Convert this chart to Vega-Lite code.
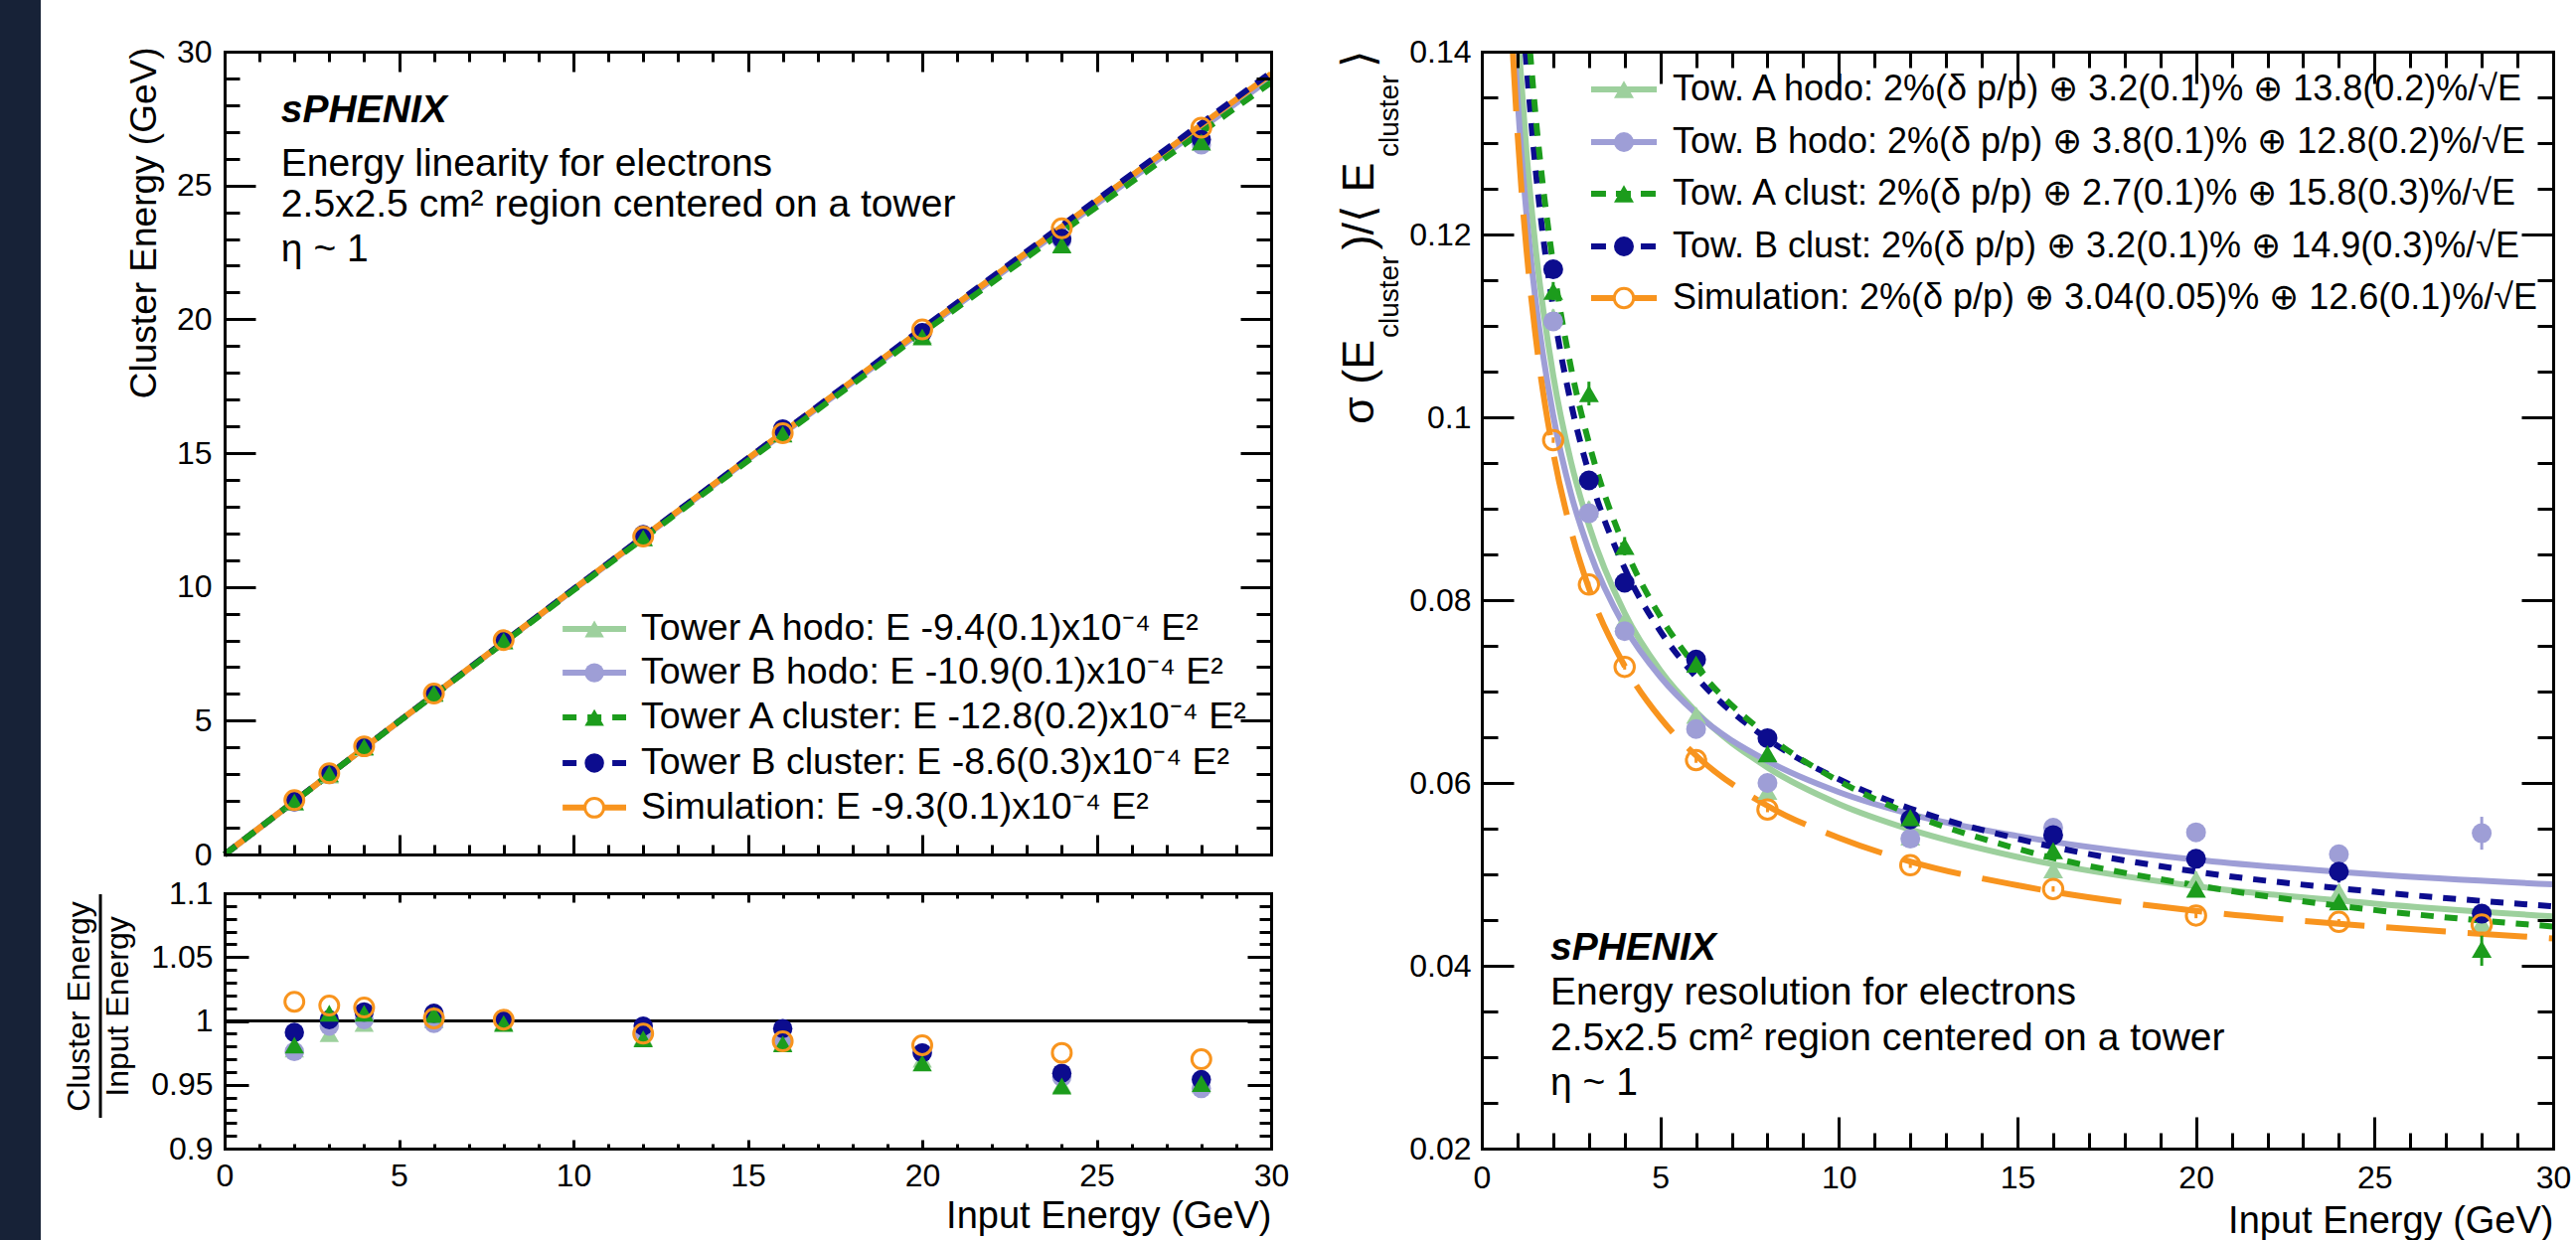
{
"$schema":"https://vega.github.io/schema/vega-lite/v6.json",
"background":"white",
"padding":0,
"config":{
 "view":{"stroke":null},
 "font":"Liberation Sans",
 "text":{"font":"Liberation Sans","color":"black"},
 "axis":{"grid":false,"labelFont":"Liberation Sans","labelFontSize":32,"labelColor":"black","titleFont":"Liberation Sans","titleColor":"black","titleFontWeight":"normal","titleFontSize":38,"domainColor":"black","domainWidth":3,"domainCap":"square","tickColor":"black","tickWidth":3,"labelOverlap":false,"labelFlush":false,"labelBound":false}
},
"datasets":{
 "fitL":[
  {"s":"Ah","E":0,"v":0},{"s":"Ah","E":5,"v":4.9765},{"s":"Ah","E":10,"v":9.906},{"s":"Ah","E":15,"v":14.7885},{"s":"Ah","E":20,"v":19.624},{"s":"Ah","E":25,"v":24.4125},{"s":"Ah","E":30,"v":29.154},
  {"s":"Bh","E":0,"v":0},{"s":"Bh","E":5,"v":4.97275},{"s":"Bh","E":10,"v":9.891},{"s":"Bh","E":15,"v":14.75475},{"s":"Bh","E":20,"v":19.564},{"s":"Bh","E":25,"v":24.31875},{"s":"Bh","E":30,"v":29.019},
  {"s":"Sim","E":0,"v":0},{"s":"Sim","E":5,"v":4.97675},{"s":"Sim","E":10,"v":9.907},{"s":"Sim","E":15,"v":14.79075},{"s":"Sim","E":20,"v":19.628},{"s":"Sim","E":25,"v":24.41875},{"s":"Sim","E":30,"v":29.163},
  {"s":"Bc","E":0,"v":0},{"s":"Bc","E":5,"v":4.9785},{"s":"Bc","E":10,"v":9.914},{"s":"Bc","E":15,"v":14.8065},{"s":"Bc","E":20,"v":19.656},{"s":"Bc","E":25,"v":24.4625},{"s":"Bc","E":30,"v":29.226},
  {"s":"Ac","E":0,"v":0},{"s":"Ac","E":5,"v":4.968},{"s":"Ac","E":10,"v":9.872},{"s":"Ac","E":15,"v":14.712},{"s":"Ac","E":20,"v":19.488},{"s":"Ac","E":25,"v":24.2},{"s":"Ac","E":30,"v":28.848}
 ],
 "ptsL":[
  {"s":"Ah","E":2,"r":0.978,"c":1.956},{"s":"Bh","E":2,"r":0.976,"c":1.952},{"s":"Bc","E":2,"r":0.991,"c":1.982},{"s":"Ac","E":2,"r":0.981,"c":1.962},{"s":"Sim","E":2,"r":1.015,"c":2.03},
  {"s":"Ah","E":3,"r":0.990,"c":2.97},{"s":"Bh","E":3,"r":0.996,"c":2.988},{"s":"Bc","E":3,"r":1.001,"c":3.003},{"s":"Ac","E":3,"r":1.006,"c":3.018},{"s":"Sim","E":3,"r":1.012,"c":3.036},
  {"s":"Ah","E":4,"r":0.998,"c":3.992},{"s":"Bh","E":4,"r":1.001,"c":4.004},{"s":"Bc","E":4,"r":1.007,"c":4.028},{"s":"Ac","E":4,"r":1.006,"c":4.024},{"s":"Sim","E":4,"r":1.0105,"c":4.042},
  {"s":"Ah","E":6,"r":1.001,"c":6.006},{"s":"Bh","E":6,"r":0.998,"c":5.988},{"s":"Bc","E":6,"r":1.006,"c":6.036},{"s":"Ac","E":6,"r":1.005,"c":6.03},{"s":"Sim","E":6,"r":1.002,"c":6.012},
  {"s":"Ah","E":8,"r":0.999,"c":7.992},{"s":"Bh","E":8,"r":1.0,"c":8.0},{"s":"Bc","E":8,"r":1.001,"c":8.008},{"s":"Ac","E":8,"r":0.998,"c":7.984},{"s":"Sim","E":8,"r":1.001,"c":8.008},
  {"s":"Ah","E":12,"r":0.987,"c":11.844},{"s":"Bh","E":12,"r":0.992,"c":11.904},{"s":"Bc","E":12,"r":0.996,"c":11.952},{"s":"Ac","E":12,"r":0.986,"c":11.832},{"s":"Sim","E":12,"r":0.990,"c":11.88},
  {"s":"Ah","E":16,"r":0.983,"c":15.728},{"s":"Bh","E":16,"r":0.985,"c":15.76},{"s":"Bc","E":16,"r":0.994,"c":15.904},{"s":"Ac","E":16,"r":0.982,"c":15.712},{"s":"Sim","E":16,"r":0.984,"c":15.744},
  {"s":"Ah","E":20,"r":0.970,"c":19.4},{"s":"Bh","E":20,"r":0.975,"c":19.5},{"s":"Bc","E":20,"r":0.975,"c":19.5},{"s":"Ac","E":20,"r":0.967,"c":19.34},{"s":"Sim","E":20,"r":0.981,"c":19.62},
  {"s":"Ah","E":24,"r":0.950,"c":22.8},{"s":"Bh","E":24,"r":0.956,"c":22.944},{"s":"Bc","E":24,"r":0.959,"c":23.016},{"s":"Ac","E":24,"r":0.949,"c":22.776},{"s":"Sim","E":24,"r":0.975,"c":23.4},
  {"s":"Ah","E":28,"r":0.950,"c":26.6},{"s":"Bh","E":28,"r":0.947,"c":26.516},{"s":"Bc","E":28,"r":0.954,"c":26.712},{"s":"Ac","E":28,"r":0.951,"c":26.628},{"s":"Sim","E":28,"r":0.970,"c":27.16}
 ],
 "fitR":[
  {"s":"Ah","E":1.0478,"v":0.14},{"s":"Ah","E":1.25,"v":0.1291},{"s":"Ah","E":1.5,"v":0.1188},{"s":"Ah","E":2,"v":0.1046},{"s":"Ah","E":2.5,"v":0.0951},{"s":"Ah","E":3,"v":0.0882},{"s":"Ah","E":4,"v":0.0786},{"s":"Ah","E":5,"v":0.0723},{"s":"Ah","E":6,"v":0.0678},{"s":"Ah","E":8,"v":0.0617},{"s":"Ah","E":10,"v":0.0577},{"s":"Ah","E":12,"v":0.0549},{"s":"Ah","E":15,"v":0.0519},{"s":"Ah","E":20,"v":0.0487},{"s":"Ah","E":25,"v":0.0468},{"s":"Ah","E":30,"v":0.0454},
  {"s":"Bh","E":0.9227,"v":0.14},{"s":"Bh","E":1,"v":0.1350},{"s":"Bh","E":1.25,"v":0.1223},{"s":"Bh","E":1.5,"v":0.1130},{"s":"Bh","E":2,"v":0.1002},{"s":"Bh","E":2.5,"v":0.0916},{"s":"Bh","E":3,"v":0.0855},{"s":"Bh","E":4,"v":0.0771},{"s":"Bh","E":5,"v":0.0716},{"s":"Bh","E":6,"v":0.0676},{"s":"Bh","E":8,"v":0.0624},{"s":"Bh","E":10,"v":0.0590},{"s":"Bh","E":12,"v":0.0566},{"s":"Bh","E":15,"v":0.0542},{"s":"Bh","E":20,"v":0.0516},{"s":"Bh","E":25,"v":0.0500},{"s":"Bh","E":30,"v":0.0489},
  {"s":"Sim","E":0.8687,"v":0.14},{"s":"Sim","E":1,"v":0.1311},{"s":"Sim","E":1.25,"v":0.1184},{"s":"Sim","E":1.5,"v":0.1091},{"s":"Sim","E":2,"v":0.0962},{"s":"Sim","E":2.5,"v":0.0876},{"s":"Sim","E":3,"v":0.0813},{"s":"Sim","E":4,"v":0.0728},{"s":"Sim","E":5,"v":0.0671},{"s":"Sim","E":6,"v":0.0630},{"s":"Sim","E":8,"v":0.0575},{"s":"Sim","E":10,"v":0.0540},{"s":"Sim","E":12,"v":0.0514},{"s":"Sim","E":15,"v":0.0488},{"s":"Sim","E":20,"v":0.0460},{"s":"Sim","E":25,"v":0.0443},{"s":"Sim","E":30,"v":0.0430},
  {"s":"Bc","E":1.2214,"v":0.14},{"s":"Bc","E":1.5,"v":0.1274},{"s":"Bc","E":2,"v":0.1119},{"s":"Bc","E":2.5,"v":0.1015},{"s":"Bc","E":3,"v":0.0939},{"s":"Bc","E":4,"v":0.0835},{"s":"Bc","E":5,"v":0.0766},{"s":"Bc","E":6,"v":0.0716},{"s":"Bc","E":8,"v":0.0648},{"s":"Bc","E":10,"v":0.0604},{"s":"Bc","E":12,"v":0.0572},{"s":"Bc","E":15,"v":0.0539},{"s":"Bc","E":20,"v":0.0503},{"s":"Bc","E":25,"v":0.0481},{"s":"Bc","E":30,"v":0.0465},
  {"s":"Ac","E":1.3515,"v":0.14},{"s":"Ac","E":1.5,"v":0.1333},{"s":"Ac","E":2,"v":0.1167},{"s":"Ac","E":2.5,"v":0.1054},{"s":"Ac","E":3,"v":0.0972},{"s":"Ac","E":4,"v":0.0858},{"s":"Ac","E":5,"v":0.0782},{"s":"Ac","E":6,"v":0.0727},{"s":"Ac","E":8,"v":0.0652},{"s":"Ac","E":10,"v":0.0602},{"s":"Ac","E":12,"v":0.0566},{"s":"Ac","E":15,"v":0.0528},{"s":"Ac","E":20,"v":0.0488},{"s":"Ac","E":25,"v":0.0461},{"s":"Ac","E":30,"v":0.0443}
 ],
 "ptsR":[
  {"s":"Ah","E":2,"v":0.1110,"lo":0.1102,"hi":0.1118},{"s":"Bh","E":2,"v":0.1105,"lo":0.1097,"hi":0.1113},{"s":"Bc","E":2,"v":0.1162,"lo":0.1154,"hi":0.1170},{"s":"Ac","E":2,"v":0.1138,"lo":0.1128,"hi":0.1148},{"s":"Sim","E":2,"v":0.0975,"lo":0.0972,"hi":0.0978},
  {"s":"Ah","E":3,"v":0.0900,"lo":0.0892,"hi":0.0908},{"s":"Bh","E":3,"v":0.0895,"lo":0.0887,"hi":0.0903},{"s":"Bc","E":3,"v":0.0931,"lo":0.0923,"hi":0.0939},{"s":"Ac","E":3,"v":0.1026,"lo":0.1013,"hi":0.1039},{"s":"Sim","E":3,"v":0.0817,"lo":0.0814,"hi":0.0820},
  {"s":"Ah","E":4,"v":0.0778,"lo":0.0770,"hi":0.0786},{"s":"Bh","E":4,"v":0.0766,"lo":0.0758,"hi":0.0774},{"s":"Bc","E":4,"v":0.0819,"lo":0.0811,"hi":0.0827},{"s":"Ac","E":4,"v":0.0859,"lo":0.0849,"hi":0.0869},{"s":"Sim","E":4,"v":0.0727,"lo":0.0724,"hi":0.0730},
  {"s":"Ah","E":6,"v":0.0674,"lo":0.0666,"hi":0.0682},{"s":"Bh","E":6,"v":0.0659,"lo":0.0651,"hi":0.0667},{"s":"Bc","E":6,"v":0.0735,"lo":0.0727,"hi":0.0743},{"s":"Ac","E":6,"v":0.0730,"lo":0.0722,"hi":0.0738},{"s":"Sim","E":6,"v":0.0625,"lo":0.0622,"hi":0.0628},
  {"s":"Ah","E":8,"v":0.0591,"lo":0.0583,"hi":0.0599},{"s":"Bh","E":8,"v":0.0600,"lo":0.0592,"hi":0.0608},{"s":"Bc","E":8,"v":0.0649,"lo":0.0641,"hi":0.0657},{"s":"Ac","E":8,"v":0.0632,"lo":0.0624,"hi":0.0640},{"s":"Sim","E":8,"v":0.0571,"lo":0.0568,"hi":0.0574},
  {"s":"Ah","E":12,"v":0.0541,"lo":0.0533,"hi":0.0549},{"s":"Bh","E":12,"v":0.0539,"lo":0.0531,"hi":0.0547},{"s":"Bc","E":12,"v":0.0560,"lo":0.0552,"hi":0.0568},{"s":"Ac","E":12,"v":0.0562,"lo":0.0554,"hi":0.0570},{"s":"Sim","E":12,"v":0.0510,"lo":0.0507,"hi":0.0513},
  {"s":"Ah","E":16,"v":0.0505,"lo":0.0497,"hi":0.0513},{"s":"Bh","E":16,"v":0.0551,"lo":0.0543,"hi":0.0559},{"s":"Bc","E":16,"v":0.0543,"lo":0.0535,"hi":0.0551},{"s":"Ac","E":16,"v":0.0526,"lo":0.0518,"hi":0.0534},{"s":"Sim","E":16,"v":0.0484,"lo":0.0481,"hi":0.0487},
  {"s":"Ah","E":20,"v":0.0495,"lo":0.0487,"hi":0.0503},{"s":"Bh","E":20,"v":0.0546,"lo":0.0538,"hi":0.0554},{"s":"Bc","E":20,"v":0.0517,"lo":0.0507,"hi":0.0527},{"s":"Ac","E":20,"v":0.0484,"lo":0.0476,"hi":0.0492},{"s":"Sim","E":20,"v":0.0455,"lo":0.0452,"hi":0.0458},
  {"s":"Ah","E":24,"v":0.0481,"lo":0.0473,"hi":0.0489},{"s":"Bh","E":24,"v":0.0522,"lo":0.0514,"hi":0.0530},{"s":"Bc","E":24,"v":0.0503,"lo":0.0491,"hi":0.0515},{"s":"Ac","E":24,"v":0.0470,"lo":0.0462,"hi":0.0478},{"s":"Sim","E":24,"v":0.0448,"lo":0.0445,"hi":0.0451},
  {"s":"Ah","E":28,"v":0.0447,"lo":0.0439,"hi":0.0455},{"s":"Bh","E":28,"v":0.0545,"lo":0.0527,"hi":0.0563},{"s":"Bc","E":28,"v":0.0457,"lo":0.0447,"hi":0.0467},{"s":"Ac","E":28,"v":0.0418,"lo":0.0400,"hi":0.0436},{"s":"Sim","E":28,"v":0.0445,"lo":0.0442,"hi":0.0448}
 ]
},
"bounds":"flush",
"spacing":185,
"hconcat":[
 {"width":41,"height":1248,"data":{"values":[{"a":0,"b":1}]},"mark":{"type":"rect","color":"#172237"},
  "encoding":{"x":{"field":"a","type":"quantitative","scale":{"domain":[0,1],"nice":false,"zero":false},"axis":null},"x2":{"field":"b"},
   "y":{"field":"a","type":"quantitative","scale":{"domain":[0,1],"nice":false,"zero":false},"axis":null},"y2":{"field":"b"}}},
 {"bounds":"flush","spacing":212,"hconcat":[
  {"width":1053,"height":1156,
   "resolve":{"scale":{"y":"independent"},"axis":{"x":"independent","y":"independent"}},
   "layer":[
    {"resolve":{"axis":{"x":"independent","y":"independent"}},
     "layer":[
     {"data":{"name":"fitL"},"transform":[{"filter":{"field":"s","oneOf":["Ah","Bh","Sim"]}}],
      "mark":{"type":"line","strokeWidth":6},
      "encoding":{
       "x":{"field":"E","type":"quantitative","scale":{"domain":[0,30],"nice":false,"zero":false},
        "axis":{"orient":"bottom","offset":-296,"values":[0,1,2,3,4,5,6,7,8,9,10,11,12,13,14,15,16,17,18,19,20,21,22,23,24,25,26,27,28,29,30],"labels":false,"title":null,"tickSize":{"condition":{"test":"datum.value % 5 === 0","value":-20},"value":-10},"zindex":2}},
       "y":{"field":"v","type":"quantitative","scale":{"domain":[0,30],"nice":false,"zero":false,"range":[860,52]},
        "axis":{"orient":"left","values":[0,5,10,15,20,25,30],"ticks":false,"tickSize":0,"domain":false,"labelPadding":13,"labelExpr":"'' + datum.value","title":"Cluster Energy (GeV)","titleFontSize":37,"titleAngle":270,"titleAlign":"right","titleBaseline":"alphabetic","titleX":-70,"titleY":47}},
       "color":{"field":"s","type":"nominal","scale":{"domain":["Ah","Bh","Ac","Bc","Sim"],"range":["#9dd09d","#9e9ed6","#1c9c1c","#0c0c8e","#f8941e"]},"legend":null}}},
     {"data":{"name":"fitL"},"transform":[{"filter":{"field":"s","oneOf":["Bc","Ac"]}}],
      "mark":{"type":"line","strokeWidth":6,"strokeDash":[14,10]},
      "encoding":{
       "x":{"field":"E","type":"quantitative","scale":{"domain":[0,30],"nice":false,"zero":false},"axis":null},
       "y":{"field":"v","type":"quantitative","scale":{"domain":[0,30],"nice":false,"zero":false,"range":[860,52]},"axis":null},
       "color":{"field":"s","type":"nominal","legend":null}}},
     {"data":{"name":"ptsL"},"transform":[{"filter":{"field":"s","oneOf":["Ah","Bh","Bc","Ac"]}}],
      "mark":{"type":"point","filled":true,"size":380,"opacity":1},
      "encoding":{
       "x":{"field":"E","type":"quantitative","scale":{"domain":[0,30],"nice":false,"zero":false},
        "axis":{"orient":"top","offset":-52,"values":[0,1,2,3,4,5,6,7,8,9,10,11,12,13,14,15,16,17,18,19,20,21,22,23,24,25,26,27,28,29,30],"labels":false,"title":null,"tickSize":{"condition":{"test":"datum.value % 5 === 0","value":-20},"value":-10},"zindex":2}},
       "y":{"field":"c","type":"quantitative","scale":{"domain":[0,30],"nice":false,"zero":false,"range":[860,52]},
        "axis":{"orient":"left","values":[0,1,2,3,4,5,6,7,8,9,10,11,12,13,14,15,16,17,18,19,20,21,22,23,24,25,26,27,28,29,30],"labels":false,"title":null,"tickSize":{"condition":{"test":"datum.value % 5 === 0","value":-31},"value":-15},"zindex":2}},
       "color":{"field":"s","type":"nominal","legend":null},
       "shape":{"field":"s","type":"nominal","scale":{"domain":["Ah","Bh","Ac","Bc","Sim"],"range":["triangle-up","circle","triangle-up","circle","circle"]},"legend":null}}},
     {"data":{"name":"ptsL"},"transform":[{"filter":{"field":"s","oneOf":["Sim"]}}],
      "mark":{"type":"point","filled":false,"size":360,"strokeWidth":3,"opacity":1},
      "encoding":{
       "x":{"field":"E","type":"quantitative","scale":{"domain":[0,30],"nice":false,"zero":false},"axis":null},
       "y":{"field":"c","type":"quantitative","scale":{"domain":[0,30],"nice":false,"zero":false,"range":[860,52]},
        "axis":{"orient":"right","values":[0,1,2,3,4,5,6,7,8,9,10,11,12,13,14,15,16,17,18,19,20,21,22,23,24,25,26,27,28,29,30],"labels":false,"title":null,"tickSize":{"condition":{"test":"datum.value % 5 === 0","value":-31},"value":-15},"zindex":2}},
       "color":{"field":"s","type":"nominal","legend":null}}},
     {"data":{"values":[{"t":"sPHENIX"}]},"mark":{"type":"text","fontSize":39,"fontWeight":"bold","fontStyle":"italic","align":"left","baseline":"alphabetic"},
      "encoding":{"x":{"datum":1.62,"type":"quantitative","scale":{"domain":[0,30],"nice":false,"zero":false},"axis":null},"y":{"datum":27.36,"type":"quantitative","scale":{"domain":[0,30],"nice":false,"zero":false,"range":[860,52]},"axis":null},"text":{"field":"t"}}},
     {"data":{"values":[{"t":"Energy linearity for electrons"}]},"mark":{"type":"text","fontSize":39,"align":"left","baseline":"alphabetic"},
      "encoding":{"x":{"datum":1.62,"type":"quantitative","scale":{"domain":[0,30],"nice":false,"zero":false},"axis":null},"y":{"datum":25.36,"type":"quantitative","scale":{"domain":[0,30],"nice":false,"zero":false,"range":[860,52]},"axis":null},"text":{"field":"t"}}},
     {"data":{"values":[{"t":"2.5x2.5 cm² region centered on a tower"}]},"mark":{"type":"text","fontSize":39,"align":"left","baseline":"alphabetic"},
      "encoding":{"x":{"datum":1.62,"type":"quantitative","scale":{"domain":[0,30],"nice":false,"zero":false},"axis":null},"y":{"datum":23.84,"type":"quantitative","scale":{"domain":[0,30],"nice":false,"zero":false,"range":[860,52]},"axis":null},"text":{"field":"t"}}},
     {"data":{"values":[{"t":"η ~ 1"}]},"mark":{"type":"text","fontSize":39,"align":"left","baseline":"alphabetic"},
      "encoding":{"x":{"datum":1.62,"type":"quantitative","scale":{"domain":[0,30],"nice":false,"zero":false},"axis":null},"y":{"datum":22.17,"type":"quantitative","scale":{"domain":[0,30],"nice":false,"zero":false,"range":[860,52]},"axis":null},"text":{"field":"t"}}},
     {"data":{"values":[{"s":"Ah","t":"Tower A hodo: E -9.4(0.1)x10⁻⁴ E²"}]},
      "encoding":{"y":{"datum":8.43,"type":"quantitative","scale":{"domain":[0,30],"nice":false,"zero":false,"range":[860,52]},"axis":null},"color":{"field":"s","type":"nominal","legend":null}},
      "layer":[
       {"mark":{"type":"rule","strokeWidth":6},"encoding":{"x":{"datum":9.69,"type":"quantitative","scale":{"domain":[0,30],"nice":false,"zero":false},"axis":null},"x2":{"datum":11.51}}},
       {"mark":{"type":"point","filled":true,"size":380,"opacity":1},"encoding":{"x":{"datum":10.6,"type":"quantitative","scale":{"domain":[0,30],"nice":false,"zero":false},"axis":null},"shape":{"field":"s","type":"nominal","legend":null}}},
       {"mark":{"type":"text","fontSize":37.5,"align":"left","baseline":"middle"},"encoding":{"x":{"datum":11.94,"type":"quantitative","scale":{"domain":[0,30],"nice":false,"zero":false},"axis":null},"text":{"field":"t"},"color":{"value":"black"}}}]},
     {"data":{"values":[{"s":"Bh","t":"Tower B hodo: E -10.9(0.1)x10⁻⁴ E²"}]},
      "encoding":{"y":{"datum":6.79,"type":"quantitative","scale":{"domain":[0,30],"nice":false,"zero":false,"range":[860,52]},"axis":null},"color":{"field":"s","type":"nominal","legend":null}},
      "layer":[
       {"mark":{"type":"rule","strokeWidth":6},"encoding":{"x":{"datum":9.69,"type":"quantitative","scale":{"domain":[0,30],"nice":false,"zero":false},"axis":null},"x2":{"datum":11.51}}},
       {"mark":{"type":"point","filled":true,"size":380,"opacity":1},"encoding":{"x":{"datum":10.6,"type":"quantitative","scale":{"domain":[0,30],"nice":false,"zero":false},"axis":null},"shape":{"field":"s","type":"nominal","legend":null}}},
       {"mark":{"type":"text","fontSize":37.5,"align":"left","baseline":"middle"},"encoding":{"x":{"datum":11.94,"type":"quantitative","scale":{"domain":[0,30],"nice":false,"zero":false},"axis":null},"text":{"field":"t"},"color":{"value":"black"}}}]},
     {"data":{"values":[{"s":"Ac","t":"Tower A cluster: E -12.8(0.2)x10⁻⁴ E²"}]},
      "encoding":{"y":{"datum":5.12,"type":"quantitative","scale":{"domain":[0,30],"nice":false,"zero":false,"range":[860,52]},"axis":null},"color":{"field":"s","type":"nominal","legend":null}},
      "layer":[
       {"mark":{"type":"rule","strokeWidth":6,"strokeDash":[14,11]},"encoding":{"x":{"datum":9.69,"type":"quantitative","scale":{"domain":[0,30],"nice":false,"zero":false},"axis":null},"x2":{"datum":11.51}}},
       {"mark":{"type":"point","filled":true,"size":380,"opacity":1},"encoding":{"x":{"datum":10.6,"type":"quantitative","scale":{"domain":[0,30],"nice":false,"zero":false},"axis":null},"shape":{"field":"s","type":"nominal","legend":null}}},
       {"mark":{"type":"text","fontSize":37.5,"align":"left","baseline":"middle"},"encoding":{"x":{"datum":11.94,"type":"quantitative","scale":{"domain":[0,30],"nice":false,"zero":false},"axis":null},"text":{"field":"t"},"color":{"value":"black"}}}]},
     {"data":{"values":[{"s":"Bc","t":"Tower B cluster: E -8.6(0.3)x10⁻⁴ E²"}]},
      "encoding":{"y":{"datum":3.42,"type":"quantitative","scale":{"domain":[0,30],"nice":false,"zero":false,"range":[860,52]},"axis":null},"color":{"field":"s","type":"nominal","legend":null}},
      "layer":[
       {"mark":{"type":"rule","strokeWidth":6,"strokeDash":[14,11]},"encoding":{"x":{"datum":9.69,"type":"quantitative","scale":{"domain":[0,30],"nice":false,"zero":false},"axis":null},"x2":{"datum":11.51}}},
       {"mark":{"type":"point","filled":true,"size":380,"opacity":1},"encoding":{"x":{"datum":10.6,"type":"quantitative","scale":{"domain":[0,30],"nice":false,"zero":false},"axis":null},"shape":{"field":"s","type":"nominal","legend":null}}},
       {"mark":{"type":"text","fontSize":37.5,"align":"left","baseline":"middle"},"encoding":{"x":{"datum":11.94,"type":"quantitative","scale":{"domain":[0,30],"nice":false,"zero":false},"axis":null},"text":{"field":"t"},"color":{"value":"black"}}}]},
     {"data":{"values":[{"s":"Sim","t":"Simulation: E -9.3(0.1)x10⁻⁴ E²"}]},
      "encoding":{"y":{"datum":1.75,"type":"quantitative","scale":{"domain":[0,30],"nice":false,"zero":false,"range":[860,52]},"axis":null},"color":{"field":"s","type":"nominal","legend":null}},
      "layer":[
       {"mark":{"type":"rule","strokeWidth":6},"encoding":{"x":{"datum":9.69,"type":"quantitative","scale":{"domain":[0,30],"nice":false,"zero":false},"axis":null},"x2":{"datum":11.51}}},
       {"mark":{"type":"point","filled":true,"size":380,"opacity":1},"encoding":{"x":{"datum":10.6,"type":"quantitative","scale":{"domain":[0,30],"nice":false,"zero":false},"axis":null},"color":{"value":"white"}}},
       {"mark":{"type":"point","filled":false,"size":360,"strokeWidth":3,"opacity":1},"encoding":{"x":{"datum":10.6,"type":"quantitative","scale":{"domain":[0,30],"nice":false,"zero":false},"axis":null}}},
       {"mark":{"type":"text","fontSize":37.5,"align":"left","baseline":"middle"},"encoding":{"x":{"datum":11.94,"type":"quantitative","scale":{"domain":[0,30],"nice":false,"zero":false},"axis":null},"text":{"field":"t"},"color":{"value":"black"}}}]}
     ]},
    {"resolve":{"axis":{"x":"independent","y":"independent"}},
     "layer":[
     {"data":{"values":[{"v":1}]},"mark":{"type":"rule","strokeWidth":3,"color":"black"},
      "encoding":{"y":{"field":"v","type":"quantitative","scale":{"domain":[0.9,1.1],"nice":false,"zero":false,"range":[1156,899]},
       "axis":{"orient":"left","values":[0.9,0.95,1,1.05,1.1],"ticks":false,"tickSize":0,"domain":false,"labelPadding":12,"labelExpr":"'' + datum.value","title":null}}}},
     {"data":{"name":"ptsL"},"mark":{"type":"point","opacity":0},
      "encoding":{
       "x":{"field":"E","type":"quantitative","scale":{"domain":[0,30],"nice":false,"zero":false},
        "axis":{"orient":"bottom","values":[0,1,2,3,4,5,6,7,8,9,10,11,12,13,14,15,16,17,18,19,20,21,22,23,24,25,26,27,28,29,30],"labels":false,"title":null,"tickSize":{"condition":{"test":"datum.value % 5 === 0","value":-9},"value":-5},"zindex":2}},
       "y":{"field":"r","type":"quantitative","scale":{"domain":[0.9,1.1],"nice":false,"zero":false,"range":[1156,899]},"axis":null}}},
     {"data":{"name":"ptsL"},"transform":[{"filter":{"field":"s","oneOf":["Ah","Bh","Bc","Ac"]}}],
      "mark":{"type":"point","filled":true,"size":380,"opacity":1},
      "encoding":{
       "x":{"field":"E","type":"quantitative","scale":{"domain":[0,30],"nice":false,"zero":false},
        "axis":{"orient":"bottom","values":[0,5,10,15,20,25,30],"ticks":false,"tickSize":0,"domain":false,"labelPadding":12,"labelExpr":"'' + datum.value","title":"Input Energy (GeV)","titleAnchor":"end","titleAlign":"right","titleBaseline":"alphabetic","titleX":1053,"titleY":79}},
       "y":{"field":"r","type":"quantitative","scale":{"domain":[0.9,1.1],"nice":false,"zero":false,"range":[1156,899]},
        "axis":{"orient":"left","values":[0.9,0.91,0.92,0.93,0.94,0.95,0.96,0.97,0.98,0.99,1,1.01,1.02,1.03,1.04,1.05,1.06,1.07,1.08,1.09,1.1],"labels":false,"title":null,"tickSize":{"condition":{"test":"round(datum.value*100) % 5 === 0","value":-24},"value":-12},"zindex":2}},
       "color":{"field":"s","type":"nominal","scale":{"domain":["Ah","Bh","Ac","Bc","Sim"],"range":["#9dd09d","#9e9ed6","#1c9c1c","#0c0c8e","#f8941e"]},"legend":null},
       "shape":{"field":"s","type":"nominal","scale":{"domain":["Ah","Bh","Ac","Bc","Sim"],"range":["triangle-up","circle","triangle-up","circle","circle"]},"legend":null}}},
     {"data":{"name":"ptsL"},"transform":[{"filter":{"field":"s","oneOf":["Sim"]}}],
      "mark":{"type":"point","filled":false,"size":360,"strokeWidth":3,"opacity":1},
      "encoding":{
       "x":{"field":"E","type":"quantitative","scale":{"domain":[0,30],"nice":false,"zero":false},
        "axis":{"orient":"top","offset":-899,"values":[0,1,2,3,4,5,6,7,8,9,10,11,12,13,14,15,16,17,18,19,20,21,22,23,24,25,26,27,28,29,30],"labels":false,"title":null,"tickSize":{"condition":{"test":"datum.value % 5 === 0","value":-9},"value":-5},"zindex":2}},
       "y":{"field":"r","type":"quantitative","scale":{"domain":[0.9,1.1],"nice":false,"zero":false,"range":[1156,899]},
        "axis":{"orient":"right","values":[0.9,0.91,0.92,0.93,0.94,0.95,0.96,0.97,0.98,0.99,1,1.01,1.02,1.03,1.04,1.05,1.06,1.07,1.08,1.09,1.1],"labels":false,"title":null,"tickSize":{"condition":{"test":"round(datum.value*100) % 5 === 0","value":-24},"value":-12},"zindex":2}},
       "color":{"field":"s","type":"nominal","legend":null}}},
     {"data":{"values":[{"t":"Cluster Energy"}]},"mark":{"type":"text","fontSize":32,"angle":270,"align":"center","baseline":"alphabetic"},
      "encoding":{"x":{"datum":-3.87,"type":"quantitative","scale":{"domain":[0,30],"nice":false,"zero":false},"axis":null},"y":{"datum":1.0113,"type":"quantitative","scale":{"domain":[0.9,1.1],"nice":false,"zero":false,"range":[1156,899]},"axis":null},"text":{"field":"t"}}},
     {"data":{"values":[{"t":"Input Energy"}]},"mark":{"type":"text","fontSize":32,"angle":270,"align":"center","baseline":"alphabetic"},
      "encoding":{"x":{"datum":-2.76,"type":"quantitative","scale":{"domain":[0,30],"nice":false,"zero":false},"axis":null},"y":{"datum":1.0113,"type":"quantitative","scale":{"domain":[0.9,1.1],"nice":false,"zero":false,"range":[1156,899]},"axis":null},"text":{"field":"t"}}},
     {"data":{"values":[{"t":"bar"}]},"mark":{"type":"rule","strokeWidth":3,"color":"black"},
      "encoding":{"x":{"datum":-3.56,"type":"quantitative","scale":{"domain":[0,30],"nice":false,"zero":false},"axis":null},"y":{"datum":1.0992,"type":"quantitative","scale":{"domain":[0.9,1.1],"nice":false,"zero":false,"range":[1156,899]},"axis":null},"y2":{"datum":0.9241}}}
     ]}
   ]},
  {"width":1078,"height":1156,
   "resolve":{"axis":{"x":"independent","y":"independent"}},
   "layer":[
     {"data":{"name":"fitR"},"transform":[{"filter":{"field":"s","oneOf":["Ah","Bh"]}}],
      "mark":{"type":"line","strokeWidth":6,"interpolate":"monotone"},
      "encoding":{
       "x":{"field":"E","type":"quantitative","scale":{"domain":[0,30],"nice":false,"zero":false},
        "axis":{"orient":"bottom","values":[0,5,10,15,20,25,30],"ticks":false,"tickSize":0,"domain":false,"labelPadding":14,"labelExpr":"'' + datum.value","title":"Input Energy (GeV)","titleAnchor":"end","titleAlign":"right","titleBaseline":"alphabetic","titleX":1078,"titleY":84}},
       "y":{"field":"v","type":"quantitative","scale":{"domain":[0.02,0.14],"nice":false,"zero":false,"range":[1156,52]},
        "axis":{"orient":"left","values":[0.02,0.04,0.06,0.08,0.1,0.12,0.14],"ticks":false,"tickSize":0,"domain":false,"labelPadding":11,"labelExpr":"'' + datum.value","title":null}},
       "color":{"field":"s","type":"nominal","scale":{"domain":["Ah","Bh","Ac","Bc","Sim"],"range":["#9dd09d","#9e9ed6","#1c9c1c","#0c0c8e","#f8941e"]},"legend":null}}},
     {"data":{"name":"fitR"},"transform":[{"filter":{"field":"s","oneOf":["Sim"]}}],
      "mark":{"type":"line","strokeWidth":6,"interpolate":"monotone","strokeDash":[60,22]},
      "encoding":{
       "x":{"field":"E","type":"quantitative","scale":{"domain":[0,30],"nice":false,"zero":false},"axis":null},
       "y":{"field":"v","type":"quantitative","scale":{"domain":[0.02,0.14],"nice":false,"zero":false,"range":[1156,52]},"axis":null},
       "color":{"field":"s","type":"nominal","legend":null}}},
     {"data":{"name":"fitR"},"transform":[{"filter":{"field":"s","oneOf":["Bc","Ac"]}}],
      "mark":{"type":"line","strokeWidth":6,"interpolate":"monotone","strokeDash":[13,11]},
      "encoding":{
       "x":{"field":"E","type":"quantitative","scale":{"domain":[0,30],"nice":false,"zero":false},"axis":null},
       "y":{"field":"v","type":"quantitative","scale":{"domain":[0.02,0.14],"nice":false,"zero":false,"range":[1156,52]},"axis":null},
       "color":{"field":"s","type":"nominal","legend":null}}},
     {"data":{"name":"ptsR"},
      "mark":{"type":"rule","strokeWidth":3},
      "encoding":{
       "x":{"field":"E","type":"quantitative","scale":{"domain":[0,30],"nice":false,"zero":false},
        "axis":{"orient":"bottom","values":[0,1,2,3,4,5,6,7,8,9,10,11,12,13,14,15,16,17,18,19,20,21,22,23,24,25,26,27,28,29,30],"labels":false,"title":null,"tickSize":{"condition":{"test":"datum.value % 5 === 0","value":-32},"value":-16},"zindex":2}},
       "y":{"field":"lo","type":"quantitative","scale":{"domain":[0.02,0.14],"nice":false,"zero":false,"range":[1156,52]},
        "axis":{"orient":"left","values":[0.02,0.025,0.03,0.035,0.04,0.045,0.05,0.055,0.06,0.065,0.07,0.075,0.08,0.085,0.09,0.095,0.1,0.105,0.11,0.115,0.12,0.125,0.13,0.135,0.14],"labels":false,"title":null,"tickSize":{"condition":{"test":"round(datum.value*1000) % 20 === 0","value":-32},"value":-16},"zindex":2}},
       "y2":{"field":"hi"},
       "color":{"field":"s","type":"nominal","legend":null}}},
     {"data":{"name":"ptsR"},"transform":[{"filter":{"field":"s","oneOf":["Ah","Bh","Bc","Ac"]}}],
      "mark":{"type":"point","filled":true,"size":400,"opacity":1},
      "encoding":{
       "x":{"field":"E","type":"quantitative","scale":{"domain":[0,30],"nice":false,"zero":false},
        "axis":{"orient":"top","offset":-52,"values":[0,1,2,3,4,5,6,7,8,9,10,11,12,13,14,15,16,17,18,19,20,21,22,23,24,25,26,27,28,29,30],"labels":false,"title":null,"tickSize":{"condition":{"test":"datum.value % 5 === 0","value":-32},"value":-16},"zindex":2}},
       "y":{"field":"v","type":"quantitative","scale":{"domain":[0.02,0.14],"nice":false,"zero":false,"range":[1156,52]},
        "axis":{"orient":"right","values":[0.02,0.025,0.03,0.035,0.04,0.045,0.05,0.055,0.06,0.065,0.07,0.075,0.08,0.085,0.09,0.095,0.1,0.105,0.11,0.115,0.12,0.125,0.13,0.135,0.14],"labels":false,"title":null,"tickSize":{"condition":{"test":"round(datum.value*1000) % 20 === 0","value":-32},"value":-16},"zindex":2}},
       "color":{"field":"s","type":"nominal","legend":null},
       "shape":{"field":"s","type":"nominal","scale":{"domain":["Ah","Bh","Ac","Bc","Sim"],"range":["triangle-up","circle","triangle-up","circle","circle"]},"legend":null}}},
     {"data":{"name":"ptsR"},"transform":[{"filter":{"field":"s","oneOf":["Sim"]}}],
      "mark":{"type":"point","filled":false,"size":380,"strokeWidth":3,"opacity":1},
      "encoding":{
       "x":{"field":"E","type":"quantitative","scale":{"domain":[0,30],"nice":false,"zero":false},"axis":null},
       "y":{"field":"v","type":"quantitative","scale":{"domain":[0.02,0.14],"nice":false,"zero":false,"range":[1156,52]},"axis":null},
       "color":{"field":"s","type":"nominal","legend":null}}},
     {"data":{"values":[{"t":"sPHENIX"}]},"mark":{"type":"text","fontSize":39,"fontWeight":"bold","fontStyle":"italic","align":"left","baseline":"alphabetic"},
      "encoding":{"x":{"datum":1.92,"type":"quantitative","scale":{"domain":[0,30],"nice":false,"zero":false},"axis":null},"y":{"datum":0.04065,"type":"quantitative","scale":{"domain":[0.02,0.14],"nice":false,"zero":false,"range":[1156,52]},"axis":null},"text":{"field":"t"}}},
     {"data":{"values":[{"t":"Energy resolution for electrons"}]},"mark":{"type":"text","fontSize":39,"align":"left","baseline":"alphabetic"},
      "encoding":{"x":{"datum":1.92,"type":"quantitative","scale":{"domain":[0,30],"nice":false,"zero":false},"axis":null},"y":{"datum":0.03576,"type":"quantitative","scale":{"domain":[0.02,0.14],"nice":false,"zero":false,"range":[1156,52]},"axis":null},"text":{"field":"t"}}},
     {"data":{"values":[{"t":"2.5x2.5 cm² region centered on a tower"}]},"mark":{"type":"text","fontSize":39,"align":"left","baseline":"alphabetic"},
      "encoding":{"x":{"datum":1.92,"type":"quantitative","scale":{"domain":[0,30],"nice":false,"zero":false},"axis":null},"y":{"datum":0.03076,"type":"quantitative","scale":{"domain":[0.02,0.14],"nice":false,"zero":false,"range":[1156,52]},"axis":null},"text":{"field":"t"}}},
     {"data":{"values":[{"t":"η ~ 1"}]},"mark":{"type":"text","fontSize":39,"align":"left","baseline":"alphabetic"},
      "encoding":{"x":{"datum":1.92,"type":"quantitative","scale":{"domain":[0,30],"nice":false,"zero":false},"axis":null},"y":{"datum":0.02587,"type":"quantitative","scale":{"domain":[0.02,0.14],"nice":false,"zero":false,"range":[1156,52]},"axis":null},"text":{"field":"t"}}},
     {"data":{"values":[{"t":"σ (E"}]},"mark":{"type":"text","fontSize":45,"angle":270,"align":"left","baseline":"alphabetic"},
      "encoding":{"x":{"datum":-3.03,"type":"quantitative","scale":{"domain":[0,30],"nice":false,"zero":false},"axis":null},"y":{"datum":0.09924,"type":"quantitative","scale":{"domain":[0.02,0.14],"nice":false,"zero":false,"range":[1156,52]},"axis":null},"text":{"field":"t"}}},
     {"data":{"values":[{"t":"cluster"}]},"mark":{"type":"text","fontSize":28,"angle":270,"align":"left","baseline":"alphabetic"},
      "encoding":{"x":{"datum":-2.34,"type":"quantitative","scale":{"domain":[0,30],"nice":false,"zero":false},"axis":null},"y":{"datum":0.1087,"type":"quantitative","scale":{"domain":[0.02,0.14],"nice":false,"zero":false,"range":[1156,52]},"axis":null},"text":{"field":"t"}}},
     {"data":{"values":[{"t":")/⟨ E"}]},"mark":{"type":"text","fontSize":45,"angle":270,"align":"left","baseline":"alphabetic"},
      "encoding":{"x":{"datum":-3.03,"type":"quantitative","scale":{"domain":[0,30],"nice":false,"zero":false},"axis":null},"y":{"datum":0.11832,"type":"quantitative","scale":{"domain":[0.02,0.14],"nice":false,"zero":false,"range":[1156,52]},"axis":null},"text":{"field":"t"}}},
     {"data":{"values":[{"t":"cluster"}]},"mark":{"type":"text","fontSize":28,"angle":270,"align":"left","baseline":"alphabetic"},
      "encoding":{"x":{"datum":-2.34,"type":"quantitative","scale":{"domain":[0,30],"nice":false,"zero":false},"axis":null},"y":{"datum":0.12848,"type":"quantitative","scale":{"domain":[0.02,0.14],"nice":false,"zero":false,"range":[1156,52]},"axis":null},"text":{"field":"t"}}},
     {"data":{"values":[{"t":"⟩"}]},"mark":{"type":"text","fontSize":45,"angle":270,"align":"left","baseline":"alphabetic"},
      "encoding":{"x":{"datum":-3.03,"type":"quantitative","scale":{"domain":[0,30],"nice":false,"zero":false},"axis":null},"y":{"datum":0.13826,"type":"quantitative","scale":{"domain":[0.02,0.14],"nice":false,"zero":false,"range":[1156,52]},"axis":null},"text":{"field":"t"}}},
     {"data":{"values":[{"s":"Ah","t":"Tow. A hodo: 2%(δ p/p) ⊕ 3.2(0.1)% ⊕ 13.8(0.2)%/√E"}]},
      "encoding":{"y":{"datum":0.13587,"type":"quantitative","scale":{"domain":[0.02,0.14],"nice":false,"zero":false,"range":[1156,52]},"axis":null},"color":{"field":"s","type":"nominal","legend":null}},
      "layer":[
       {"mark":{"type":"rule","strokeWidth":6},"encoding":{"x":{"datum":3.06,"type":"quantitative","scale":{"domain":[0,30],"nice":false,"zero":false},"axis":null},"x2":{"datum":4.9}}},
       {"mark":{"type":"point","filled":true,"size":400,"opacity":1},"encoding":{"x":{"datum":3.98,"type":"quantitative","scale":{"domain":[0,30],"nice":false,"zero":false},"axis":null},"shape":{"field":"s","type":"nominal","legend":null}}},
       {"mark":{"type":"text","fontSize":36,"align":"left","baseline":"middle"},"encoding":{"x":{"datum":5.34,"type":"quantitative","scale":{"domain":[0,30],"nice":false,"zero":false},"axis":null},"text":{"field":"t"},"color":{"value":"black"}}}]},
     {"data":{"values":[{"s":"Bh","t":"Tow. B hodo: 2%(δ p/p) ⊕ 3.8(0.1)% ⊕ 12.8(0.2)%/√E"}]},
      "encoding":{"y":{"datum":0.13011,"type":"quantitative","scale":{"domain":[0.02,0.14],"nice":false,"zero":false,"range":[1156,52]},"axis":null},"color":{"field":"s","type":"nominal","legend":null}},
      "layer":[
       {"mark":{"type":"rule","strokeWidth":6},"encoding":{"x":{"datum":3.06,"type":"quantitative","scale":{"domain":[0,30],"nice":false,"zero":false},"axis":null},"x2":{"datum":4.9}}},
       {"mark":{"type":"point","filled":true,"size":400,"opacity":1},"encoding":{"x":{"datum":3.98,"type":"quantitative","scale":{"domain":[0,30],"nice":false,"zero":false},"axis":null},"shape":{"field":"s","type":"nominal","legend":null}}},
       {"mark":{"type":"text","fontSize":36,"align":"left","baseline":"middle"},"encoding":{"x":{"datum":5.34,"type":"quantitative","scale":{"domain":[0,30],"nice":false,"zero":false},"axis":null},"text":{"field":"t"},"color":{"value":"black"}}}]},
     {"data":{"values":[{"s":"Ac","t":"Tow. A clust: 2%(δ p/p) ⊕ 2.7(0.1)% ⊕ 15.8(0.3)%/√E"}]},
      "encoding":{"y":{"datum":0.12446,"type":"quantitative","scale":{"domain":[0.02,0.14],"nice":false,"zero":false,"range":[1156,52]},"axis":null},"color":{"field":"s","type":"nominal","legend":null}},
      "layer":[
       {"mark":{"type":"rule","strokeWidth":6,"strokeDash":[15,10]},"encoding":{"x":{"datum":3.06,"type":"quantitative","scale":{"domain":[0,30],"nice":false,"zero":false},"axis":null},"x2":{"datum":4.9}}},
       {"mark":{"type":"point","filled":true,"size":400,"opacity":1},"encoding":{"x":{"datum":3.98,"type":"quantitative","scale":{"domain":[0,30],"nice":false,"zero":false},"axis":null},"shape":{"field":"s","type":"nominal","legend":null}}},
       {"mark":{"type":"text","fontSize":36,"align":"left","baseline":"middle"},"encoding":{"x":{"datum":5.34,"type":"quantitative","scale":{"domain":[0,30],"nice":false,"zero":false},"axis":null},"text":{"field":"t"},"color":{"value":"black"}}}]},
     {"data":{"values":[{"s":"Bc","t":"Tow. B clust: 2%(δ p/p) ⊕ 3.2(0.1)% ⊕ 14.9(0.3)%/√E"}]},
      "encoding":{"y":{"datum":0.1187,"type":"quantitative","scale":{"domain":[0.02,0.14],"nice":false,"zero":false,"range":[1156,52]},"axis":null},"color":{"field":"s","type":"nominal","legend":null}},
      "layer":[
       {"mark":{"type":"rule","strokeWidth":6,"strokeDash":[15,10]},"encoding":{"x":{"datum":3.06,"type":"quantitative","scale":{"domain":[0,30],"nice":false,"zero":false},"axis":null},"x2":{"datum":4.9}}},
       {"mark":{"type":"point","filled":true,"size":400,"opacity":1},"encoding":{"x":{"datum":3.98,"type":"quantitative","scale":{"domain":[0,30],"nice":false,"zero":false},"axis":null},"shape":{"field":"s","type":"nominal","legend":null}}},
       {"mark":{"type":"text","fontSize":36,"align":"left","baseline":"middle"},"encoding":{"x":{"datum":5.34,"type":"quantitative","scale":{"domain":[0,30],"nice":false,"zero":false},"axis":null},"text":{"field":"t"},"color":{"value":"black"}}}]},
     {"data":{"values":[{"s":"Sim","t":"Simulation: 2%(δ p/p) ⊕ 3.04(0.05)% ⊕ 12.6(0.1)%/√E"}]},
      "encoding":{"y":{"datum":0.11304,"type":"quantitative","scale":{"domain":[0.02,0.14],"nice":false,"zero":false,"range":[1156,52]},"axis":null},"color":{"field":"s","type":"nominal","legend":null}},
      "layer":[
       {"mark":{"type":"rule","strokeWidth":6},"encoding":{"x":{"datum":3.06,"type":"quantitative","scale":{"domain":[0,30],"nice":false,"zero":false},"axis":null},"x2":{"datum":4.9}}},
       {"mark":{"type":"point","filled":true,"size":400,"opacity":1},"encoding":{"x":{"datum":3.98,"type":"quantitative","scale":{"domain":[0,30],"nice":false,"zero":false},"axis":null},"color":{"value":"white"}}},
       {"mark":{"type":"point","filled":false,"size":380,"strokeWidth":3,"opacity":1},"encoding":{"x":{"datum":3.98,"type":"quantitative","scale":{"domain":[0,30],"nice":false,"zero":false},"axis":null}}},
       {"mark":{"type":"text","fontSize":36,"align":"left","baseline":"middle"},"encoding":{"x":{"datum":5.34,"type":"quantitative","scale":{"domain":[0,30],"nice":false,"zero":false},"axis":null},"text":{"field":"t"},"color":{"value":"black"}}}]}
   ]}
 ]}
]
}
